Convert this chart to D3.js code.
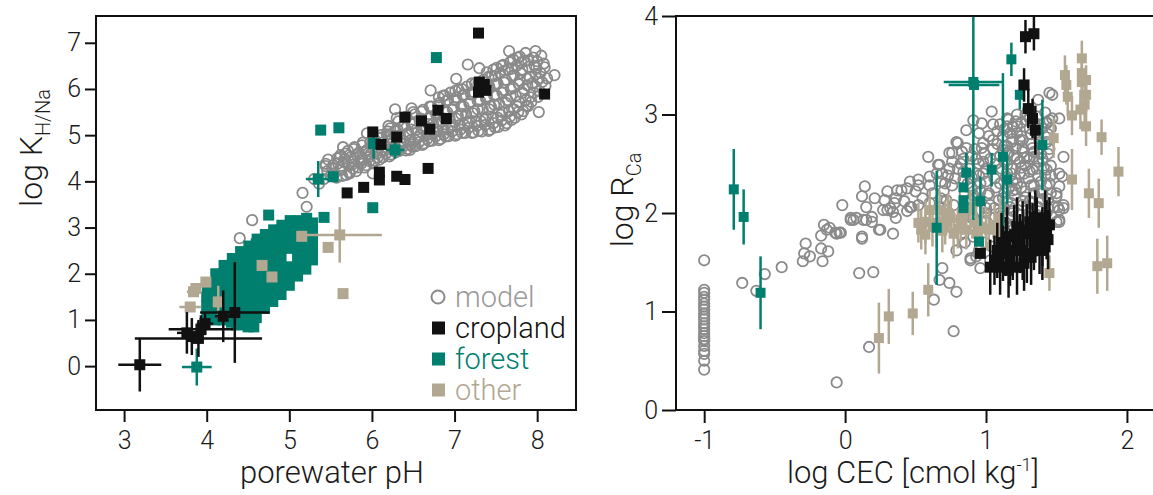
<!DOCTYPE html>
<html>
<head>
<meta charset="utf-8">
<script src="https://cdn.jsdelivr.net/npm/d3@7"></script>
<style>
body { margin: 0; background: #fff; }
svg text { font-family: Roboto, "Liberation Sans", sans-serif; font-weight: 300; fill: #1a1a1a; }
</style>
</head>
<body>
<div class="chart"></div>
<script>
// ---- left panel: porewater pH vs log K(H/Na) ----
const phTicks = [3, 4, 5, 6, 7, 8];
const kTicks = [0, 1, 2, 3, 4, 5, 6, 7];

// model [pH, logK]
const modelLeft = [
  [4.40,2.77],[4.55,3.16],[5.21,3.45],[5.16,3.75],[5.44,4.33],[5.30,4.05],[5.36,3.95],[6.71,5.97],[7.16,6.53],
  [6.28,5.56],[5.94,5.04],[6.22,5.15],[6.48,5.58],[7.02,6.22],[7.30,6.45],[7.66,6.82],[8.21,6.30],[8.02,5.50],
  [6.01,4.17],[5.61,4.52],[5.65,4.74],[5.73,4.17],[5.89,4.46],[6.46,4.68],[6.25,4.74],
  [5.42,4.05],[5.46,4.22],[5.44,4.38],[5.50,4.12],
  [5.55,4.18],[5.53,4.35],[5.58,4.50],[5.57,4.08],
  [5.63,4.25],[5.66,4.42],[5.68,4.60],[5.64,4.12],
  [5.73,4.20],[5.76,4.36],[5.74,4.52],[5.78,4.70],[5.77,4.28],
  [5.83,4.30],[5.86,4.46],[5.84,4.62],[5.88,4.78],[5.87,4.38],
  [5.93,4.35],[5.96,4.52],[5.94,4.68],[5.98,4.85],[5.97,4.44],
  [6.03,4.45],[6.06,4.60],[6.04,4.76],[6.08,4.95],[6.07,4.52],
  [6.13,4.52],[6.16,4.68],[6.14,4.85],[6.18,5.02],[6.17,4.60],[6.12,4.95],
  [6.23,4.58],[6.26,4.74],[6.24,4.92],[6.28,5.10],[6.27,4.66],[6.22,5.02],
  [6.33,4.66],[6.36,4.82],[6.34,5.00],[6.38,5.18],[6.37,4.74],[6.32,5.30],
  [6.43,4.70],[6.46,4.88],[6.44,5.05],[6.48,5.24],[6.47,4.80],[6.42,5.40],
  [6.53,4.76],[6.56,4.95],[6.54,5.12],[6.58,5.30],[6.57,4.85],[6.52,5.45],
  [6.63,4.82],[6.66,5.00],[6.64,5.18],[6.68,5.36],[6.67,4.92],[6.62,5.55],
  [6.73,4.88],[6.76,5.06],[6.74,5.25],[6.78,5.44],[6.77,4.97],[6.72,5.62],
  [6.83,4.92],[6.86,5.12],[6.84,5.30],[6.88,5.50],[6.87,5.02],[6.82,5.70],[6.86,5.85],
  [6.93,4.98],[6.96,5.18],[6.94,5.36],[6.98,5.56],[6.97,5.08],[6.92,5.76],[6.95,5.92],
  [7.03,5.02],[7.06,5.22],[7.04,5.42],[7.08,5.62],[7.07,5.12],[7.02,5.82],[7.05,5.98],
  [7.13,5.05],[7.16,5.26],[7.14,5.46],[7.18,5.68],[7.17,5.16],[7.12,5.88],[7.15,6.05],
  [7.23,5.06],[7.26,5.30],[7.24,5.52],[7.28,5.74],[7.27,5.20],[7.22,5.94],[7.25,6.12],
  [7.33,5.08],[7.36,5.34],[7.34,5.56],[7.38,5.80],[7.37,5.22],[7.32,6.00],[7.35,6.20],
  [7.43,5.12],[7.46,5.38],[7.44,5.62],[7.48,5.86],[7.47,5.26],[7.42,6.06],[7.45,6.28],[7.47,6.42],
  [7.53,5.18],[7.56,5.44],[7.54,5.68],[7.58,5.92],[7.57,5.32],[7.52,6.12],[7.55,6.35],[7.57,6.50],
  [7.63,5.26],[7.66,5.52],[7.64,5.76],[7.68,6.00],[7.67,5.40],[7.62,6.20],[7.65,6.42],[7.67,6.58],
  [7.73,5.38],[7.76,5.62],[7.74,5.86],[7.78,6.10],[7.77,5.50],[7.72,6.30],[7.75,6.50],[7.77,6.68],
  [7.83,5.52],[7.86,5.76],[7.84,6.00],[7.88,6.22],[7.87,5.64],[7.82,6.42],[7.85,6.60],[7.86,6.78],
  [7.93,5.72],[7.96,5.92],[7.94,6.12],[7.98,6.32],[7.97,6.50],[7.95,6.68],[7.98,6.82],
  [8.03,5.95],[8.06,6.15],[8.04,6.35],[8.08,6.55],[8.05,6.72],
  [5.52,4.28],[5.47,4.47],[5.61,4.25],[5.59,4.39],[5.62,4.57],
  [5.69,4.14],[5.72,4.34],[5.67,4.49],[5.71,4.66],
  [5.81,4.22],[5.78,4.43],[5.82,4.57],[5.79,4.74],
  [5.91,4.30],[5.88,4.52],[5.92,4.65],[5.89,4.84],
  [6.02,4.41],[5.98,4.58],[6.01,4.70],[6.03,4.91],
  [6.09,4.47],[6.12,4.66],[6.08,4.79],[6.11,5.00],
  [6.21,4.54],[6.18,4.74],[6.22,4.87],[6.19,5.08],[6.20,5.20],
  [6.29,4.63],[6.32,4.77],[6.28,4.98],[6.31,5.12],[6.30,5.37],
  [6.41,4.67],[6.38,4.87],[6.42,5.01],[6.39,5.22],[6.40,5.38],
  [6.49,4.75],[6.52,4.90],[6.48,5.12],[6.51,5.26],[6.50,5.50],
  [6.61,4.79],[6.58,5.00],[6.62,5.14],[6.59,5.36],[6.60,5.51],
  [6.69,4.87],[6.72,5.02],[6.68,5.24],[6.71,5.38],[6.70,5.62],
  [6.81,4.89],[6.78,5.12],[6.82,5.26],[6.79,5.48],[6.80,5.64],[6.81,5.82],
  [6.89,4.97],[6.92,5.12],[6.88,5.36],[6.91,5.50],[6.90,5.74],[6.88,5.86],
  [7.01,4.99],[6.98,5.22],[7.02,5.36],[6.99,5.60],[7.00,5.76],[7.01,5.96],
  [7.09,5.05],[7.12,5.22],[7.08,5.46],[7.11,5.62],[7.10,5.86],[7.09,6.00],
  [7.21,5.05],[7.18,5.30],[7.22,5.48],[7.19,5.72],[7.20,5.88],[7.21,6.12],
  [7.29,5.09],[7.32,5.30],[7.28,5.56],[7.31,5.74],[7.30,5.98],[7.29,6.14],
  [7.41,5.09],[7.38,5.38],[7.42,5.56],[7.39,5.84],[7.40,6.02],[7.41,6.26],[7.39,6.36],
  [7.49,5.17],[7.52,5.38],[7.48,5.66],[7.51,5.86],[7.50,6.10],[7.49,6.28],[7.51,6.46],
  [7.61,5.21],[7.58,5.50],[7.62,5.70],[7.59,5.98],[7.60,6.14],[7.61,6.40],[7.59,6.52],
  [7.69,5.33],[7.72,5.56],[7.68,5.84],[7.71,6.03],[7.70,6.28],[7.69,6.44],[7.71,6.64],
  [7.81,5.45],[7.78,5.72],[7.82,5.92],[7.79,6.18],[7.80,6.34],[7.81,6.58],[7.79,6.70],
  [7.89,5.63],[7.92,5.82],[7.88,6.08],[7.91,6.26],[7.90,6.48],[7.89,6.62],
  [8.01,5.83],[7.98,6.06],[8.02,6.22],[7.99,6.46],[8.00,6.60],
  [8.10,6.07],[8.12,6.23],[8.09,6.47]
];

// forest [pH, logK, xerr, yerr]
const forestLeft = [
  [4.00,1.10,0,0],[4.00,1.30,0,0],[4.00,1.50,0,0],[4.01,1.70,0,0],
  [4.10,1.00,0,0],[4.10,1.20,0,0],[4.10,1.40,0,0],[4.10,1.60,0,0],[4.10,1.80,0,0],[4.11,2.00,0,0],
  [4.20,1.00,0,0],[4.20,1.20,0,0],[4.20,1.40,0,0],[4.20,1.60,0,0],[4.20,1.80,0,0],[4.20,2.00,0,0],[4.21,2.18,0,0],
  [4.30,0.95,0,0],[4.30,1.15,0,0],[4.30,1.35,0,0],[4.30,1.55,0,0],[4.30,1.75,0,0],[4.30,1.95,0,0],[4.30,2.15,0,0],[4.31,2.33,0,0],
  [4.40,0.90,0,0],[4.40,1.10,0,0],[4.40,1.30,0,0],[4.40,1.50,0,0],[4.40,1.70,0,0],[4.40,1.90,0,0],[4.40,2.10,0,0],[4.40,2.30,0,0],[4.41,2.48,0,0],
  [4.50,0.85,0,0],[4.50,1.05,0,0],[4.50,1.25,0,0],[4.50,1.45,0,0],[4.50,1.65,0,0],[4.50,1.85,0,0],[4.50,2.05,0,0],[4.50,2.25,0,0],[4.50,2.45,0,0],[4.51,2.60,0,0],
  [4.60,1.05,0,0],[4.60,1.25,0,0],[4.60,1.45,0,0],[4.60,1.65,0,0],[4.60,1.85,0,0],[4.60,2.05,0,0],[4.60,2.25,0,0],[4.60,2.45,0,0],[4.60,2.65,0,0],[4.61,2.75,0,0],
  [4.70,1.25,0,0],[4.70,1.45,0,0],[4.70,1.65,0,0],[4.70,1.85,0,0],[4.70,2.05,0,0],[4.70,2.25,0,0],[4.70,2.45,0,0],[4.70,2.65,0,0],[4.71,2.85,0,0],
  [4.80,1.40,0,0],[4.80,1.60,0,0],[4.80,1.80,0,0],[4.80,2.00,0,0],[4.80,2.20,0,0],[4.80,2.40,0,0],[4.80,2.60,0,0],[4.80,2.80,0,0],[4.81,2.95,0,0],
  [4.90,1.55,0,0],[4.90,1.75,0,0],[4.90,1.95,0,0],[4.90,2.15,0,0],[4.90,2.35,0,0],[4.90,2.55,0,0],[4.90,2.75,0,0],[4.90,2.95,0,0],[4.91,3.05,0,0],
  [5.00,1.75,0,0],[5.00,1.95,0,0],[5.00,2.15,0,0],[5.00,2.55,0,0],[5.00,2.75,0,0],[5.00,2.95,0,0],[5.01,3.15,0,0],
  [5.10,1.95,0,0],[5.10,2.15,0,0],[5.10,2.35,0,0],[5.10,2.55,0,0],[5.10,2.75,0,0],[5.10,2.95,0,0],[5.11,3.15,0,0],
  [5.20,2.10,0,0],[5.20,2.30,0,0],[5.20,2.50,0,0],[5.20,2.70,0,0],[5.20,2.90,0,0],[5.20,3.10,0,0],[5.21,3.20,0,0],
  [5.28,2.30,0,0],[5.28,2.50,0,0],[5.28,2.70,0,0],[5.28,2.90,0,0],[5.28,3.10,0,0],
  [6.78,6.68,0,0],[5.38,5.11,0,0],[5.60,5.16,0,0],[5.35,4.05,0.15,0.39],[5.53,4.10,0,0],
  [6.02,4.82,0,0.33],[6.28,4.68,0.11,0.19],[6.01,3.43,0,0],[5.42,3.22,0,0],[4.75,3.27,0,0],
  [4.36,0.89,0,0],[4.57,0.85,0,0],[3.88,-0.02,0.18,0.40]
];

// other [pH, logK, xerr, yerr]
const otherLeft = [
  [5.61,2.84,0.51,0.60],[5.15,2.81,0,0],[5.47,2.57,0,0],[5.65,1.57,0,0],
  [4.67,2.18,0,0],[4.79,1.93,0,0],[3.99,1.82,0,0],[3.84,1.61,0.08,0.10],
  [3.80,1.28,0.13,0.10],[4.14,1.39,0,0.35],[3.87,1.68,0,0]
];

// cropland [pH, logK, xerr, yerr]
const croplandLeft = [
  [7.29,7.21,0,0],[7.30,6.15,0,0],[7.36,6.10,0,0],[7.29,5.93,0,0],[7.38,5.97,0,0],[8.09,5.89,0,0],
  [6.40,5.39,0,0],[6.60,5.31,0,0],[6.70,5.13,0,0],[6.80,5.54,0,0],[6.90,5.36,0,0],
  [6.01,5.07,0,0],[6.11,4.80,0,0],[6.30,4.96,0,0],
  [6.68,4.28,0,0],[6.30,4.11,0,0],[6.40,4.04,0,0],[6.09,4.20,0,0],[6.09,4.03,0,0],[5.90,3.87,0,0],[5.70,3.75,0,0],
  [3.19,0.03,0.26,0.58],[3.76,0.72,0.12,0.45],[3.82,0.64,0.10,0.40],[3.90,0.60,0.77,0.40],
  [3.93,0.80,0.39,0.30],[3.98,0.92,0.10,0.25],[4.20,1.08,0.10,0.56],[4.34,1.16,0.42,1.09]
];

// ---- right panel: log CEC vs log R(Ca) ----
const cecTicks = [-1, 0, 1, 2];
const rTicks = [0, 1, 2, 3, 4];

// model [logCEC, logR]
const modelRight = [
  [-1,1.52],[-1,1.22],[-1,1.19],[-1,1.15],[-1,1.12],[-1,1.08],[-1,1.05],[-1,1.02],[-1,0.98],[-1,0.95],[-1,0.92],
  [-1,0.88],[-1,0.85],[-1,0.82],[-1,0.78],[-1,0.75],[-1,0.72],[-1,0.70],[-1,0.65],[-1,0.60],[-1,0.57],[-1,0.50],[-1,0.41],
  [-0.73,1.29],[-0.63,1.21],[-0.57,1.38],[-0.45,1.45],[-0.30,1.51],[-0.29,1.59],[-0.28,1.69],[-0.25,1.56],[-0.16,1.51],
  [-0.17,1.64],[-0.12,1.61],[-0.17,1.77],[-0.15,1.88],[-0.13,1.83],[-0.06,1.79],[-0.03,1.80],[-0.02,2.08],[0.04,1.93],
  [0.08,1.95],[0.12,1.74],[0.10,1.39],[0.20,1.40],[0.15,1.93],[0.19,1.96],[0.25,1.83],[0.27,2.03],[0.17,0.64],[-0.06,0.28],
  [0.14,2.27],[0.12,2.17],[0.30,2.22],[0.15,2.06],[0.30,2.03],[0.34,2.01],[0.13,1.93],[0.19,1.91],[0.34,1.79],[0.12,1.76],
  [0.46,2.06],[0.69,1.44],[0.74,1.29],[0.79,1.20],[0.63,1.12],[0.77,0.80],[0.67,1.32],[0.96,1.44],[0.89,1.52],[0.79,1.62],
  [1.48,2.06],[1.52,2.03],[1.52,1.91],[0.21,2.15],[0.32,2.05],[0.37,2.23],[0.40,2.23],[0.46,2.32],[0.47,2.06],[0.52,2.34],
  [0.59,2.57],[0.60,2.37],[0.66,2.49],[0.69,2.40],[0.71,2.30],[0.76,2.61],[0.79,2.72],[0.74,2.45],[0.83,2.62],[0.86,2.84],
  [0.84,2.34],[0.91,2.94],[0.97,2.91],[0.95,2.81],[0.98,2.71],[1.04,3.03],[1.05,2.74],[1.08,2.83],[1.15,2.88],[1.12,2.64],
  [1.15,2.49],[1.22,2.81],[1.26,2.74],[1.19,2.23],[1.24,2.40],[1.29,2.57],[-0.11,1.85],[-0.07,1.80],[-0.04,1.80],[0.04,1.95],
  [0.06,1.93],[0.28,2.13],[0.67,2.06],[0.72,2.13],[0.89,2.13],[0.91,1.96],[1.00,2.00],[1.09,2.13],[1.17,2.06],[1.12,1.86],
  [1.22,1.89],[0.93,1.56],[1.03,1.52],[1.47,3.20],[1.37,3.15],[1.52,2.96],[1.47,2.96],[1.43,2.91],[1.55,2.57],[1.54,2.37],
  [1.52,2.27],[1.50,2.17],[1.55,2.08],[0.80,2.71],[0.74,2.61],[0.67,2.49],[0.24,1.83],[1.17,2.81],[1.24,2.74],[1.29,2.94],
  [1.22,2.88],[1.15,2.68],[1.34,2.57],[1.45,3.22],[1.45,2.94],[1.52,2.40],[1.50,2.20],[1.51,2.06],[1.55,2.05],[1.52,1.93],
  [0.89,1.54],[0.91,1.76],[1.50,1.91],
  [1.10,2.90],[1.16,2.95],[1.22,3.00],[1.30,3.05],[1.36,2.98],[1.42,3.02],
  [1.12,2.78],[1.18,2.72],[1.26,2.66],[1.32,2.80],[1.38,2.72],[1.44,2.80],
  [1.10,2.58],[1.16,2.62],[1.22,2.55],[1.28,2.48],[1.34,2.62],[1.40,2.55],[1.45,2.65],
  [1.11,2.45],[1.18,2.40],[1.24,2.52],[1.30,2.35],[1.36,2.45],[1.42,2.38],[1.46,2.48],
  [1.10,2.30],[1.16,2.25],[1.22,2.30],[1.28,2.22],[1.34,2.28],[1.40,2.20],[1.45,2.30],
  [1.12,2.15],[1.18,2.10],[1.26,2.12],[1.32,2.05],[1.38,2.12],[1.44,2.05],
  [1.10,2.00],[1.16,1.95],[1.24,1.98],[1.30,1.96],[1.36,1.98],[1.42,1.95],
  [0.88,2.45],[0.93,2.55],[0.98,2.40],[1.03,2.55],[0.90,2.25],[0.96,2.30],[1.02,2.20],[1.06,2.35],[0.92,2.65],[0.99,2.60],
  [1.05,2.65],[0.88,2.05],[0.95,2.02],[1.03,2.08],[0.82,2.50],[0.78,2.35],[0.70,2.22],[0.62,2.20],[0.55,2.15],[0.50,2.22],
  [0.42,2.12],[0.35,2.10],[0.95,1.62],[0.99,1.70],[1.04,1.66],[0.85,1.70],[0.82,1.78],[0.78,1.88],
  [1.13,2.85],[1.13,2.68],[1.13,2.52],[1.14,2.36],[1.13,2.20],[1.13,2.05],[1.14,1.90],
  [1.19,2.88],[1.19,2.75],[1.20,2.58],[1.19,2.45],[1.19,2.32],[1.20,2.18],[1.19,2.02],[1.19,1.88],
  [1.25,2.92],[1.25,2.78],[1.26,2.62],[1.25,2.46],[1.25,2.26],[1.26,2.08],[1.25,1.92],
  [1.31,2.96],[1.31,2.86],[1.32,2.70],[1.31,2.55],[1.31,2.42],[1.32,2.28],[1.31,2.12],[1.31,2.00],
  [1.37,2.90],[1.37,2.80],[1.38,2.66],[1.37,2.52],[1.37,2.38],[1.38,2.22],[1.37,2.06],[1.37,1.92],
  [1.43,2.92],[1.43,2.72],[1.44,2.60],[1.43,2.44],[1.43,2.28],[1.44,2.14],[1.43,2.00],
  [1.00,2.45],[1.00,2.32],[1.01,2.18],[1.00,2.05],[1.00,1.92],
  [0.95,2.50],[0.95,2.38],[0.96,2.22],[0.95,1.85],
  [0.90,2.58],[0.90,2.36],[0.91,2.18],[0.90,1.95],
  [0.84,2.55],[0.84,2.42],[0.85,2.20],[0.84,1.98],
  [0.76,2.52],[0.76,2.28],[0.77,2.08],[0.68,2.32],[0.68,2.15],[0.69,1.98],
  [0.60,2.28],[0.60,2.10],[0.52,2.08],[0.52,2.28],[0.44,2.25],[0.44,2.02],[0.36,2.15],[0.36,1.95],
  [1.15,2.96],[1.21,2.93],[1.28,3.00],[1.34,2.92],[1.40,2.86],[1.46,2.86],
  [1.15,2.60],[1.21,2.66],[1.27,2.56],[1.33,2.66],[1.39,2.60],[1.41,2.46],
  [1.15,2.40],[1.21,2.35],[1.27,2.40],[1.33,2.44],[1.39,2.32],[1.46,2.38],
  [1.15,2.12],[1.21,2.24],[1.28,2.16],[1.34,2.20],[1.40,2.14],[1.46,2.20],
  [1.08,2.70],[1.07,2.50],[1.07,2.26],[1.06,2.05],[1.05,2.90],[1.02,2.78],
  [0.97,2.66],[0.98,2.52],[0.93,2.40],[0.87,2.30],[0.86,2.66],[0.80,2.45],[0.73,2.38],[0.65,2.40]
];

// other [logCEC, logR, xerr, yerr]
const otherRight = [
  [0.24,0.73,0,0.36],[0.31,0.95,0,0.28],[0.48,0.98,0,0.22],[0.59,1.22,0,0.27],
  [0.54,1.83,0,0.20],[0.57,1.91,0,0.22],[0.57,1.78,0,0.20],[0.60,2.03,0,0.20],[0.65,1.90,0,0.25],[0.67,2.03,0,0.20],
  [0.71,1.90,0,0.22],[0.73,2.00,0,0.20],[0.77,1.79,0,0.25],[0.80,1.84,0,0.20],[0.82,1.93,0,0.22],[0.86,1.83,0,0.20],
  [0.89,2.03,0,0.20],[0.93,1.90,0,0.22],[0.93,1.79,0,0.20],[1.00,1.84,0,0.22],[1.02,1.83,0,0.20],[1.06,1.88,0,0.20],
  [1.08,1.79,0,0.20],[1.10,1.95,0,0.20],[0.62,1.86,0,0.20],[0.69,1.82,0,0.22],[0.75,1.95,0,0.20],[0.84,1.98,0,0.20],
  [0.97,1.86,0,0.22],[0.52,1.90,0,0.20],
  [1.68,3.57,0,0.18],[1.68,3.42,0,0.18],[1.68,3.33,0,0.15],[1.71,3.35,0,0.15],[1.56,3.40,0,0.20],[1.57,3.30,0,0.20],
  [1.58,3.18,0,0.20],[1.71,3.20,0,0.18],[1.70,3.10,0,0.20],[1.67,3.05,0,0.20],[1.61,2.99,0,0.20],[1.71,2.88,0,0.20],
  [1.48,2.76,0,0.20],[1.82,2.77,0,0.18],[1.61,2.34,0,0.31],[1.94,2.42,0,0.25],[1.73,2.20,0,0.25],[1.80,2.10,0,0.25],
  [1.45,1.39,0,0.18],[1.79,1.46,0,0.28],[1.86,1.49,0,0.28]
];

// forest [logCEC, logR, xerr, yerr]
const forestRight = [
  [-0.79,2.24,0,0.41],[-0.72,1.96,0,0.28],[-0.60,1.19,0,0.37],
  [0.91,3.33,0.21,1.40],[0.915,3.30,0.18,0],[1.18,3.56,0,0.17],[1.24,3.20,0,0.15],[1.40,2.69,0,0.46],
  [0.86,2.41,0,0.20],[0.84,2.26,0,0],[0.84,2.13,0,0],[0.84,2.05,0,0],[1.04,2.44,0,0.17],[1.12,2.57,0,0.85],
  [1.15,2.34,0,0.25],[0.96,2.12,0,0.25],[0.95,1.71,0,0],[0.65,1.85,0,0.58]
];

// cropland [logCEC, logR, xerr, yerr]
const croplandRight = [
  [1.28,3.79,0,0.17],[1.34,3.82,0,0.17],[1.27,3.30,0,0.17],[1.30,3.06,0,0.20],[1.33,2.96,0,0.20],[1.35,2.84,0,0.25],
  [0.96,1.59,0,0],[1.10,1.45,0,0.28],[1.17,1.51,0,0.25],[1.22,1.45,0,0.28],[1.19,1.62,0,0.30],[1.24,1.69,0,0.30],
  [1.29,1.79,0,0.30],[1.36,1.86,0,0.30],[1.43,1.83,0,0.30],[1.44,1.73,0,0.30],[1.38,1.66,0,0.28],[1.31,1.91,0,0.30],
  [1.22,1.86,0,0.30],[1.15,1.76,0,0.30],[1.12,1.59,0,0.28],[1.29,1.59,0,0.30],[1.27,1.49,0,0.28],[1.06,1.52,0,0.25],
  [1.34,1.72,0,0.30],[1.08,1.62,0,0.28],[1.14,1.66,0,0.30],[1.20,1.78,0,0.30],[1.26,1.82,0,0.30],[1.33,1.80,0,0.30],
  [1.40,1.76,0,0.30],[1.45,1.88,0,0.28],[1.16,1.42,0,0.28],[1.26,1.62,0,0.30],[1.32,1.55,0,0.28],[1.40,1.62,0,0.30],
  [1.35,1.95,0,0.28],[1.42,1.95,0,0.28],[1.03,1.45,0,0.28],[1.11,1.70,0,0.30]
];

const legendItems = ['model', 'cropland', 'forest', 'other'];

const colors = {model: '#8a8a8a', cropland: '#111111', forest: '#007f6e', other: '#b2a791'};

const svg = d3.select('.chart')
              .append('svg')
              .attr('width', 1153)
              .attr('height', 495);

const defs = svg.append('defs');
defs.append('clipPath').attr('id', 'clipL')
    .append('rect').attr('x', 96).attr('y', 16).attr('width', 480).attr('height', 394);
defs.append('clipPath').attr('id', 'clipR')
    .append('rect').attr('x', 676).attr('y', 16).attr('width', 480).attr('height', 394);

function drawModel(g, data, x, y) {
    g.selectAll(null)
        .data(data)
        .enter()
        .append('circle')
        .attr('cx', d=>x(d[0]))
        .attr('cy', d=>y(d[1]))
        .attr('r', 5.2)
        .attr('fill', 'none')
        .attr('stroke', colors.model)
        .attr('stroke-width', 1.8);
}

function drawSeries(g, data, x, y, color, size) {
    g.selectAll(null)
        .data(data.filter(d=>d[3] > 0))
        .enter()
        .append('line')
        .attr('x1', d=>x(d[0])).attr('x2', d=>x(d[0]))
        .attr('y1', d=>y(d[1] - d[3])).attr('y2', d=>y(d[1] + d[3]))
        .attr('stroke', color)
        .attr('stroke-width', 2.5);
    g.selectAll(null)
        .data(data.filter(d=>d[2] > 0))
        .enter()
        .append('line')
        .attr('x1', d=>x(d[0] - d[2])).attr('x2', d=>x(d[0] + d[2]))
        .attr('y1', d=>y(d[1])).attr('y2', d=>y(d[1]))
        .attr('stroke', color)
        .attr('stroke-width', 2.5);
    g.selectAll(null)
        .data(data)
        .enter()
        .append('rect')
        .attr('x', d=>x(d[0]) - size / 2)
        .attr('y', d=>y(d[1]) - size / 2)
        .attr('width', size)
        .attr('height', size)
        .attr('fill', color);
}

function styleAxis(g) {
    g.select('.domain').remove();
    g.selectAll('.tick line').attr('stroke', '#111').attr('stroke-width', 2);
    g.selectAll('.tick text').attr('font-size', 25).attr('fill', '#1a1a1a')
        .style('font-family', 'Roboto, "Liberation Sans", sans-serif').style('font-weight', 300);
}

// left panel
const xL = d3.scaleLinear().domain([2.66, 8.47]).range([96, 576]);
const yL = d3.scaleLinear().domain([-0.95, 7.58]).range([410, 16]);

const dataL = svg.append('g').attr('clip-path', 'url(#clipL)');
drawModel(dataL, modelLeft, xL, yL);
drawSeries(dataL, forestLeft, xL, yL, colors.forest, 11);
drawSeries(dataL, otherLeft, xL, yL, colors.other, 11);
drawSeries(dataL, croplandLeft, xL, yL, colors.cropland, 11);

svg.append('g')
    .attr('transform', 'translate(0,410)')
    .call(d3.axisBottom(xL).tickValues(phTicks).tickSize(12).tickPadding(9).tickFormat(d=>String(d)))
    .call(styleAxis);
svg.append('g')
    .attr('transform', 'translate(96,0)')
    .call(d3.axisLeft(yL).tickValues(kTicks).tickSize(11).tickPadding(4).tickFormat(d=>String(d)))
    .call(styleAxis);
svg.append('rect')
    .attr('x', 96).attr('y', 16).attr('width', 480).attr('height', 394)
    .attr('fill', 'none').attr('stroke', '#111').attr('stroke-width', 2);

// legend
const legend = svg.append('g');
legendItems.forEach((name, i) => {
    const cy = 297 + i * 31;
    if (name === 'model') {
        legend.append('circle').attr('cx', 438).attr('cy', cy).attr('r', 6.5)
            .attr('fill', 'none').attr('stroke', colors.model).attr('stroke-width', 2);
    } else {
        legend.append('rect').attr('x', 432).attr('y', cy - 6.5).attr('width', 13).attr('height', 13)
            .attr('fill', colors[name]);
    }
    legend.append('text').attr('x', 455).attr('y', cy + 10)
        .attr('font-size', 29)
        .style('fill', name === 'model' ? '#9a9a9a' : colors[name])
        .text(name);
});

svg.append('text')
    .attr('x', 332).attr('y', 483)
    .attr('text-anchor', 'middle')
    .attr('font-size', 31)
    .text('porewater pH');

const yTitleL = svg.append('text')
    .attr('transform', 'translate(42,148) rotate(-90)')
    .attr('text-anchor', 'middle')
    .attr('font-size', 32);
yTitleL.append('tspan').text('log K');
yTitleL.append('tspan').attr('font-size', 20).attr('dy', 8).text('H/Na');

// right panel
const xR = d3.scaleLinear().domain([-1.2, 2.185]).range([676, 1153]);
const yR = d3.scaleLinear().domain([0, 4]).range([410, 16]);

const dataR = svg.append('g').attr('clip-path', 'url(#clipR)');
drawModel(dataR, modelRight, xR, yR);
drawSeries(dataR, otherRight, xR, yR, colors.other, 10);
drawSeries(dataR, forestRight, xR, yR, colors.forest, 10);
drawSeries(dataR, croplandRight, xR, yR, colors.cropland, 11);

svg.append('g')
    .attr('transform', 'translate(0,410)')
    .call(d3.axisBottom(xR).tickValues(cecTicks).tickSize(13).tickPadding(8).tickFormat(d=>String(d)))
    .call(styleAxis);
svg.append('g')
    .attr('transform', 'translate(676,0)')
    .call(d3.axisLeft(yR).tickValues(rTicks).tickSize(14).tickPadding(4).tickFormat(d=>String(d)))
    .call(styleAxis);
svg.append('rect')
    .attr('x', 676).attr('y', 16).attr('width', 500).attr('height', 394)
    .attr('fill', 'none').attr('stroke', '#111').attr('stroke-width', 2);

const xTitleR = svg.append('text')
    .attr('x', 913).attr('y', 483)
    .attr('text-anchor', 'middle')
    .attr('font-size', 31);
xTitleR.append('tspan').text('log CEC [cmol kg');
xTitleR.append('tspan').attr('font-size', 18).attr('dy', -12).text('-1');
xTitleR.append('tspan').attr('dy', 12).text(']');

const yTitleR = svg.append('text')
    .attr('transform', 'translate(633,200) rotate(-90)')
    .attr('text-anchor', 'middle')
    .attr('font-size', 32);
yTitleR.append('tspan').text('log R');
yTitleR.append('tspan').attr('font-size', 20).attr('dy', 8).text('Ca');
</script>
</body>
</html>
